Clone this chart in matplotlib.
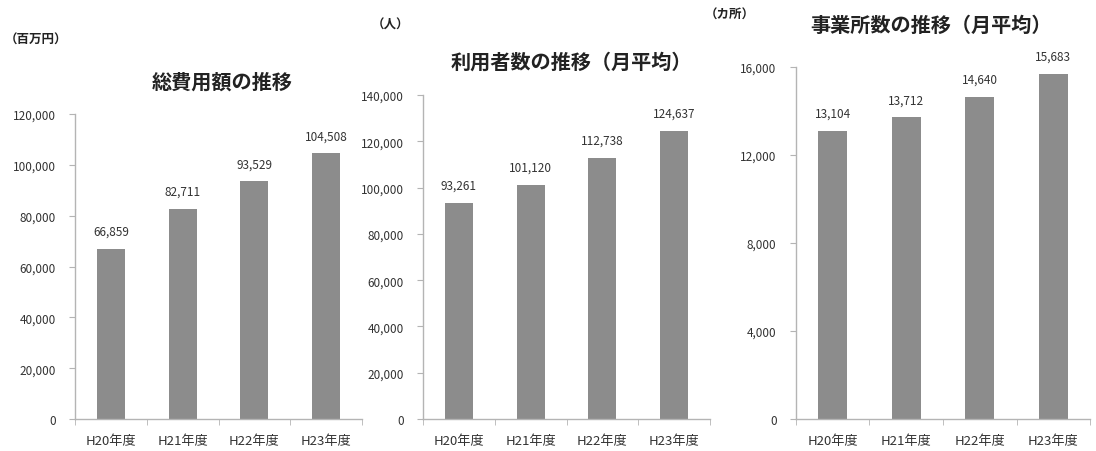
import matplotlib
matplotlib.use("Agg")
import matplotlib.pyplot as plt
import matplotlib.ticker as mticker

plt.rcParams["font.family"] = ["Noto Sans CJK JP", "DejaVu Sans"]

years = ["H20年度", "H21年度", "H22年度", "H23年度"]

cost = [66859, 82711, 93529, 104508]
users = [93261, 101120, 112738, 124637]
offices = [13104, 13712, 14640, 15683]

titles = ["総費用額の推移", "利用者数の推移（月平均）", "事業所数の推移（月平均）"]
units = ["（百万円）", "（人）", "（カ所）"]

BAR = "#8c8c8c"
AXIS = "#b4b4b4"
TEXT = "#333333"

W, H = 1096, 452
fig = plt.figure(figsize=(W / 100, H / 100), dpi=100)
fig.patch.set_facecolor("white")


def px_axes(left, right, top, bottom):
    return fig.add_axes([left / W, (H - bottom) / H, (right - left) / W, (bottom - top) / H])


panels = [
    # data, ymax, step, axes box (px), title pos, unit pos
    (cost, 120000, 20000, (75, 362, 115, 420), (222, 82), (5, 40)),
    (users, 140000, 20000, (423, 710, 96, 420), (571, 62), (372, 25)),
    (offices, 16000, 4000, (796, 1090, 68, 420), (931, 25), (705, 15)),
]

for i, (vals, ymax, step, box, tpos, upos) in enumerate(panels):
    ax = px_axes(*box)
    x = range(len(years))
    ax.bar(x, vals, width=0.39, color=BAR, zorder=2)
    ax.set_xlim(-0.5, len(years) - 0.5)
    ax.set_ylim(0, ymax)
    ax.yaxis.set_major_locator(mticker.MultipleLocator(step))
    ax.yaxis.set_major_formatter(mticker.FuncFormatter(lambda v, p: f"{int(v):,}"))
    ax.set_xticks(list(x))
    ax.set_xticklabels(years)
    ax.set_xticks([k + 0.5 for k in range(-1, len(years))], minor=True)
    ax.tick_params(axis="x", which="major", length=0, pad=11, labelsize=9.5, colors=TEXT)
    ax.tick_params(axis="x", which="minor", length=4, color=AXIS, direction="out")
    ax.tick_params(axis="y", length=4, color=AXIS, labelsize=8.5, pad=10, labelcolor=TEXT)
    for s in ("top", "right"):
        ax.spines[s].set_visible(False)
    for s in ("left", "bottom"):
        ax.spines[s].set_color(AXIS)
        ax.spines[s].set_linewidth(1.0)
    for k, v in enumerate(vals):
        ax.annotate(f"{v:,}", xy=(k, v), xytext=(0, 8), textcoords="offset points",
                    ha="center", va="bottom", fontsize=8.5, color=TEXT)
    fig.text(tpos[0] / W, (H - tpos[1]) / H, titles[i], ha="center", va="center",
             fontsize=14.5, fontweight="bold", color="#222222")
    fig.text(upos[0] / W, (H - upos[1]) / H, units[i], ha="left", va="center",
             fontsize=9, fontweight="bold", color="#222222")

fig.savefig("out.png", dpi=100, facecolor="white")
